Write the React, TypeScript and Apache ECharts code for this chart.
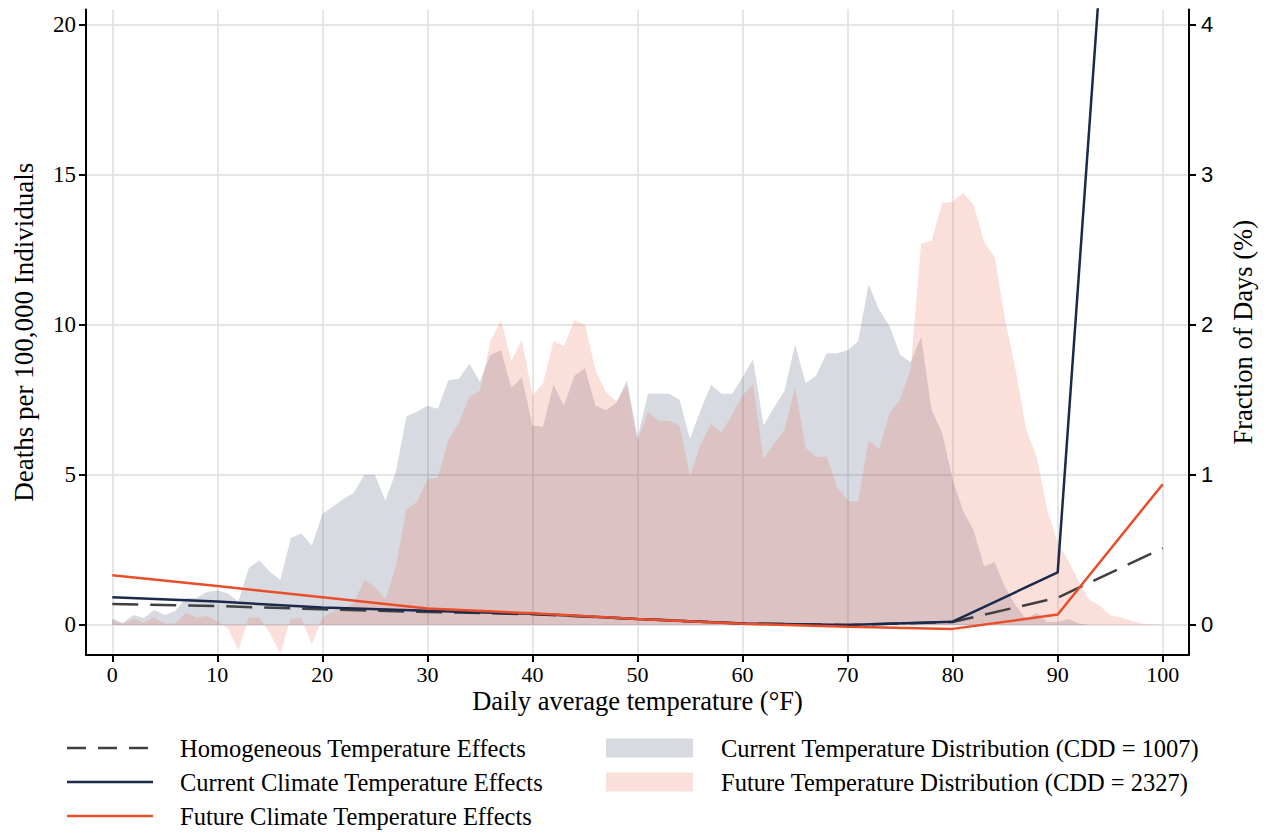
import { useEffect, useRef } from "react";
import * as echarts from "echarts";

// Temperature grid (°F) for the distributions
const temperatures = [
  0, 1, 2, 3, 4, 5, 6, 7, 8, 9, 10, 11, 12, 13, 14, 15, 16, 17, 18, 19, 20,
  21, 22, 23, 24, 25, 26, 27, 28, 29, 30, 31, 32, 33, 34, 35, 36, 37, 38, 39, 40,
  41, 42, 43, 44, 45, 46, 47, 48, 49, 50, 51, 52, 53, 54, 55, 56, 57, 58, 59, 60,
  61, 62, 63, 64, 65, 66, 67, 68, 69, 70, 71, 72, 73, 74, 75, 76, 77, 78, 79, 80,
  81, 82, 83, 84, 85, 86, 87, 88, 89, 90, 91, 92, 93, 94, 95, 96, 97, 98, 99, 100,
];

// Fraction of days (%) - current climate
const currentDistribution = [
  0.045, 0.011, 0.066, 0.046, 0.10, 0.066, 0.093, 0.18, 0.18, 0.22, 0.23,
  0.21, 0.155, 0.38, 0.43, 0.355, 0.30, 0.58, 0.61, 0.53, 0.74,
  0.79, 0.84, 0.88, 1.00, 1.00, 0.83, 1.02, 1.39, 1.42, 1.46,
  1.44, 1.63, 1.64, 1.74, 1.62, 1.80, 1.83, 1.58, 1.65, 1.33,
  1.32, 1.60, 1.46, 1.66, 1.71, 1.46, 1.43, 1.48, 1.63, 1.25,
  1.54, 1.54, 1.54, 1.50, 1.24, 1.43, 1.60, 1.54, 1.54, 1.65,
  1.77, 1.33, 1.45, 1.56, 1.87, 1.61, 1.66, 1.81, 1.81, 1.83,
  1.89, 2.27, 2.10, 1.99, 1.80, 1.75, 1.92, 1.43, 1.28, 0.97,
  0.76, 0.63, 0.39, 0.42, 0.25, 0.13, 0.04, 0.08, 0.02, 0.02,
  0.04, 0.01, 0, 0, 0, 0, 0, 0, 0, 0,
];

// Fraction of days (%) - future climate
const futureDistribution = [
  0.03, 0.01, 0.04, 0.015, 0.05, 0.01, 0.01, 0.08, 0.05, 0.06, 0.025,
  -0.02, -0.17, 0.05, 0.05, -0.055, -0.19, 0.045, 0.045, -0.13, 0.05,
  0.09, 0.11, 0.145, 0.30, 0.255, 0.17, 0.39, 0.77, 0.82, 0.97,
  0.98, 1.23, 1.35, 1.52, 1.56, 1.89, 2.03, 1.76, 1.90, 1.53,
  1.61, 1.89, 1.86, 2.03, 2.00, 1.70, 1.55, 1.49, 1.60, 1.22,
  1.42, 1.36, 1.36, 1.33, 0.99, 1.20, 1.34, 1.28, 1.40, 1.53,
  1.60, 1.10, 1.21, 1.30, 1.58, 1.18, 1.12, 1.12, 0.92, 0.83,
  0.82, 1.23, 1.17, 1.41, 1.50, 1.70, 2.54, 2.56, 2.81, 2.82,
  2.88, 2.80, 2.55, 2.45, 2.03, 1.70, 1.30, 1.12, 0.77, 0.55,
  0.43, 0.29, 0.17, 0.13, 0.065, 0.05, 0.03, 0.01, 0.005, 0,
];

// Temperature-effect curves (deaths per 100,000)
const effectTemps = [0, 10, 20, 30, 40, 50, 60, 70, 80, 90, 100];
const homogeneousEffects = [0.70, 0.63, 0.52, 0.43, 0.36, 0.20, 0.05, 0.0, 0.10, 0.91, 2.56];
const currentEffects = [0.92, 0.78, 0.58, 0.47, 0.37, 0.20, 0.05, 0.0, 0.11, 1.75, 51];
const futureEffects = [1.66, 1.30, 0.92, 0.55, 0.39, 0.20, 0.04, -0.06, -0.13, 0.35, 4.69];

const xTicks = [0, 10, 20, 30, 40, 50, 60, 70, 80, 90, 100];
const leftTicks = [0, 5, 10, 15, 20];
const rightTicks = [0, 1, 2, 3, 4];

const legendLines = [
  "Homogeneous Temperature Effects",
  "Current Climate Temperature Effects",
  "Future Climate Temperature Effects",
];
const legendAreas = [
  "Current Temperature Distribution (CDD = 1007)",
  "Future Temperature Distribution (CDD = 2327)",
];

const NAVY = "#1b2a4b";
const ORANGE = "#e94e2b";
const DASH = "#404040";
const GRAY_FILL = "rgba(28,45,80,0.176)";
const PINK_FILL = "rgba(237,113,91,0.225)";
const SERIF = '"Liberation Serif", "Times New Roman", serif';
const SANS = '"Liberation Sans", Arial, sans-serif';
const GRID = "#dedede";

function pairs(xs: number[], ys: number[]) {
  return xs.map((x, i) => [x, ys[i]]);
}

export default function App() {
  const ref = useRef<HTMLDivElement>(null);

  useEffect(() => {
    document.body.style.margin = "0";
    if (!ref.current) return;
    const chart = echarts.init(ref.current, undefined, { renderer: "svg" });

    const legendGraphics: any[] = [];
    const lineColors = [DASH, NAVY, ORANGE];
    legendLines.forEach((label, i) => {
      const y = 748 + i * 34;
      legendGraphics.push({
        type: "line",
        shape: { x1: 67, y1: y, x2: 153, y2: y },
        style: {
          stroke: lineColors[i],
          lineWidth: 2.5,
          lineDash: i === 0 ? [19, 12] : null,
        },
      });
      legendGraphics.push({
        type: "text",
        x: 180,
        y,
        style: {
          text: label,
          fontFamily: SERIF,
          fontSize: 24.5,
          fill: "#000",
          verticalAlign: "middle",
        },
      });
    });
    const areaColors = [GRAY_FILL, PINK_FILL];
    legendAreas.forEach((label, i) => {
      const y = 748 + i * 34;
      legendGraphics.push({
        type: "rect",
        shape: { x: 606, y: y - 9.5, width: 87, height: 19 },
        style: { fill: areaColors[i] },
      });
      legendGraphics.push({
        type: "text",
        x: 721,
        y,
        style: {
          text: label,
          fontFamily: SERIF,
          fontSize: 24.5,
          fill: "#000",
          verticalAlign: "middle",
        },
      });
    });

    const axisLine = { show: true, onZero: false, lineStyle: { color: "#000", width: 2 } };
    const tickStyle = { color: "#000", width: 2 };

    chart.setOption({
      animation: false,
      backgroundColor: "#fff",
      grid: { left: 86, right: 78, top: 9.5, bottom: 179, containLabel: false },
      xAxis: {
        type: "value",
        min: -2.5,
        max: 102.5,
        axisLine,
        axisTick: { show: true, customValues: xTicks, length: 7, lineStyle: tickStyle },
        axisLabel: {
          customValues: xTicks,
          fontFamily: SERIF,
          fontSize: 22,
          lineHeight: 20,
          color: "#000",
          margin: 9,
        },
        splitLine: { show: true, lineStyle: { color: GRID, width: 1.5 } },
        name: "Daily average temperature (°F)",
        nameLocation: "middle",
        nameGap: 34,
        nameMoveOverlap: false,
        nameTextStyle: { fontFamily: SERIF, fontSize: 26.5, lineHeight: 24, color: "#000" },
      },
      yAxis: [
        {
          type: "value",
          position: "left",
          min: -1,
          max: 20.5,
          axisLine,
          axisTick: { show: true, customValues: leftTicks, length: 7, lineStyle: tickStyle },
          axisLabel: {
            customValues: leftTicks,
            fontFamily: SERIF,
            fontSize: 23,
            color: "#000",
            margin: 10,
          },
          splitLine: { show: true, lineStyle: { color: GRID, width: 1.5 } },
          name: "Deaths per 100,000 Individuals",
          nameLocation: "middle",
          nameRotate: 90,
          nameGap: 49,
          nameTextStyle: { fontFamily: SERIF, fontSize: 27, color: "#000" },
        },
        {
          type: "value",
          position: "right",
          min: -0.2,
          max: 4.1,
          axisLine,
          axisTick: { show: true, customValues: rightTicks, length: 7, lineStyle: tickStyle },
          axisLabel: {
            customValues: rightTicks,
            fontFamily: SANS,
            fontSize: 22,
            color: "#000",
            margin: 12,
          },
          splitLine: { show: false },
          name: "Fraction of Days (%)",
          nameLocation: "middle",
          nameRotate: 90,
          nameGap: 40,
          nameTextStyle: { fontFamily: SERIF, fontSize: 26.5, color: "#000" },
        },
      ],
      series: [
        {
          name: legendLines[0],
          type: "line",
          yAxisIndex: 0,
          data: pairs(effectTemps, homogeneousEffects),
          symbol: "none",
          lineStyle: { color: DASH, width: 2.5, type: [26, 12] },
        },
        {
          name: legendLines[1],
          type: "line",
          yAxisIndex: 0,
          data: pairs(effectTemps, currentEffects),
          symbol: "none",
          lineStyle: { color: NAVY, width: 2.5 },
        },
        {
          name: legendLines[2],
          type: "line",
          yAxisIndex: 0,
          data: pairs(effectTemps, futureEffects),
          symbol: "none",
          lineStyle: { color: ORANGE, width: 2.5 },
        },
        {
          name: legendAreas[0],
          type: "line",
          yAxisIndex: 1,
          data: pairs(temperatures, currentDistribution),
          symbol: "none",
          lineStyle: { width: 0, opacity: 0 },
          areaStyle: { color: GRAY_FILL, opacity: 1 },
        },
        {
          name: legendAreas[1],
          type: "line",
          yAxisIndex: 1,
          data: pairs(temperatures, futureDistribution),
          symbol: "none",
          lineStyle: { width: 0, opacity: 0 },
          areaStyle: { color: PINK_FILL, opacity: 1 },
        },
      ],
      graphic: legendGraphics,
    });

    return () => {
      chart.dispose();
    };
  }, []);

  return <div ref={ref} style={{ width: 1267, height: 834 }} />;
}
